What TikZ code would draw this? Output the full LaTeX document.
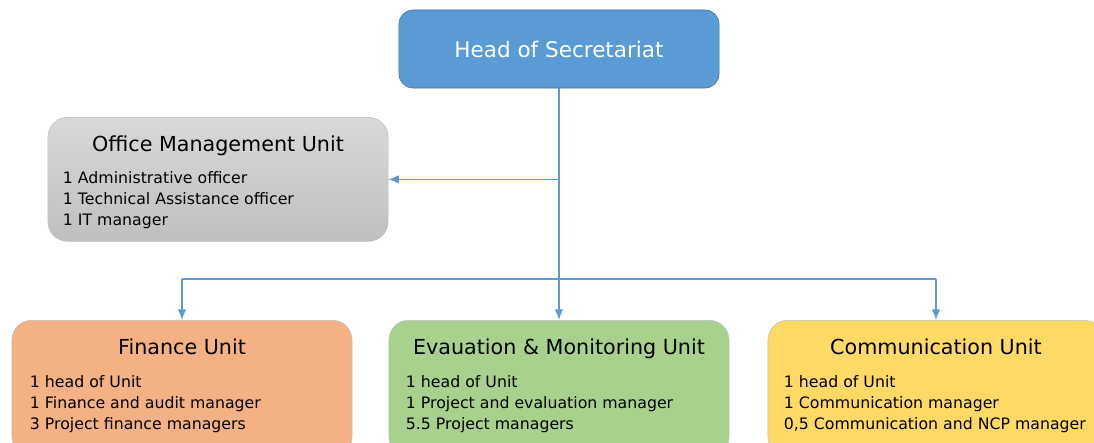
\documentclass[tikz,border=0pt]{standalone}
\usepackage{fontspec}
\setmainfont{DejaVu Sans}
\usepackage{xcolor}
\usepackage{tikz}
\usetikzlibrary{arrows.meta, positioning, calc}

\definecolor{headblue}{HTML}{5B9BD5}
\definecolor{headedge}{HTML}{41719C}
\definecolor{finorange}{HTML}{F4B183}
\definecolor{evalgreen}{HTML}{A9D18E}
\definecolor{commyellow}{HTML}{FFD966}
\definecolor{unitedge}{HTML}{BFBFBF}

\begin{document}
\begin{tikzpicture}[
    x=0.025cm, y=-0.025cm,
    % Node styles
    headbox/.style={rectangle, draw=headedge, fill=headblue, rounded corners=10pt, minimum width=8cm, minimum height=1.95cm, text=white, font=\fontsize{15.3}{18}\selectfont},
    unitbox/.style={rectangle, draw=unitedge, rounded corners=14pt, minimum width=8.5cm, anchor=north},
    unittitle/.style={anchor=base, inner sep=0pt, font=\fontsize{14.7}{17}\selectfont},
    staff/.style={anchor=base west, inner sep=0pt, align=left, font=\fontsize{11.2}{14.9}\selectfont},
    link/.style={headblue, line width=1pt},
    tip/.style={link, -{Latex[length=7.5pt, width=6pt]}},
]
\useasboundingbox (0,0) rectangle (1094,442);

% Head
\node[headbox] (head) at (559,49) {Head of Secretariat};

% Office Management Unit (grey, shaded)
\node[unitbox, minimum height=3.1cm, top color=black!15, bottom color=black!25] (office) at (218,117) {};
\node[unittitle] (officetitle) at ($(office.north)+(0,34)$) {Office Management Unit};
\node[staff] (officestaff) at ($(office.north west)+(15,108)$) {1 Administrative officer\\1 Technical Assistance officer\\1 IT manager};

% Bottom units
\node[unitbox, minimum height=3.4cm, fill=finorange] (fin) at (182,320) {};
\node[unitbox, minimum height=3.4cm, fill=evalgreen] (eval) at (559,320) {};
\node[unitbox, minimum height=3.4cm, fill=commyellow, minimum width=8.4cm] (comm) at (936,320) {};

\node[unittitle] (fintitle) at ($(fin.north)+(0,34)$) {Finance Unit};
\node[unittitle] (evaltitle) at ($(eval.north)+(0,34)$) {Evauation \& Monitoring Unit};
\node[unittitle] (commtitle) at ($(comm.north)+(0,34)$) {Communication Unit};

\node[staff] (finstaff) at ($(fin.north west)+(18,109)$) {1 head of Unit\\1 Finance and audit manager\\3 Project finance managers};
\node[staff] (evalstaff) at ($(eval.north west)+(17,109)$) {1 head of Unit\\1 Project and evaluation manager\\5.5 Project managers};
\node[staff] (commstaff) at ($(comm.north west)+(16,109)$) {1 head of Unit\\1 Communication manager\\0,5 Communication and NCP manager};

% Connectors
\coordinate (bus) at (head.south |- 0,279);
\draw[link] (head.south) -- (bus);
\draw[tip] (head.south |- office.east) -- (office.east);
\draw[link] (bus -| fin.north) -- (bus -| comm.north);
\draw[tip] (bus -| fin.north) -- (fin.north);
\draw[tip] (bus) -- (eval.north);
\draw[tip] (bus -| comm.north) -- (comm.north);

\end{tikzpicture}
\end{document}
